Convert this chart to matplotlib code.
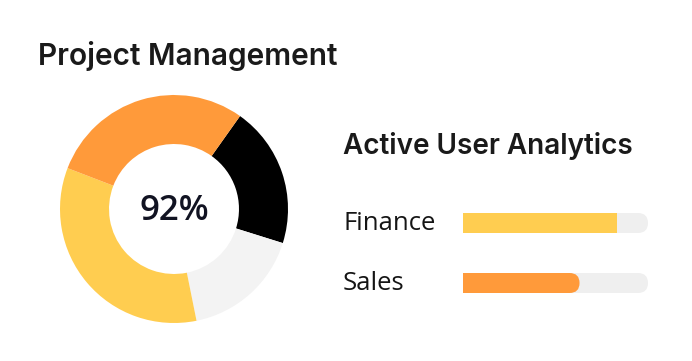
import matplotlib
matplotlib.use('Agg')
import matplotlib.pyplot as plt
from matplotlib.patches import FancyBboxPatch, Rectangle

# ============================================================
# Data
# ============================================================
segment_names  = ['Team A', 'Team B', 'Team C', 'Team D']
segment_values = [20, 17, 34, 29]          # clockwise from top-right
segment_colors = ['#000000', '#F3F3F3', '#FFCD50', '#FF9A3A']
center_label   = '92%'

bar_labels = ['Finance', 'Sales']
bar_values = [83, 63]                       # percent filled
bar_colors = ['#FFCD50', '#FF9A3A']
bar_rounded = [False, True]
TRACK_COLOR = '#EFEFEF'

W, H = 692, 361
fig = plt.figure(figsize=(W / 100, H / 100), dpi=100)
fig.patch.set_facecolor('white')

def px_axes(x0, y0, w, h):
    # axes placed by pixel box (top-left origin)
    return fig.add_axes([x0 / W, 1 - (y0 + h) / H, w / W, h / H])

# ============================================================
# Donut
# ============================================================
cx, cy, r = 174, 209, 114
ax = px_axes(cx - r, cy - r, 2 * r, 2 * r)
ax.pie(segment_values, colors=segment_colors, startangle=54.6, counterclock=False,
       radius=1.0, wedgeprops=dict(width=0.43, edgecolor='none'))
ax.set_xlim(-1, 1)
ax.set_ylim(-1, 1)
ax.set_aspect('equal')
ax.axis('off')
ax.text(0, -0.02, center_label, ha='center', va='center', fontsize=25,
        family='Open Sans', fontweight='semibold', color='#111322')

# ============================================================
# Titles
# ============================================================
fig.text(38 / W, 1 - 65 / H, 'Project Management', fontsize=21.5,
         family='Inter', fontweight='semibold', color='#1A1A1A')
fig.text(343 / W, 1 - 154 / H, 'Active User Analytics', fontsize=20.1,
         family='Inter', fontweight='semibold', color='#1A1A1A')

# ============================================================
# Progress bars
# ============================================================
bx0, bw = 463, 185
by0, bh = 203, 100
bax = px_axes(bx0, by0, bw, bh)
unit = 100 / bw                      # data units per pixel
bax.set_xlim(0, 100)
bax.set_ylim(0, bh * unit)
bax.axis('off')

bar_h = 20 * unit
rs = bar_h / 2
for i, (lab, val, col, rnd) in enumerate(zip(bar_labels, bar_values, bar_colors, bar_rounded)):
    yc = (bh - (20 + 60 * i)) * unit
    y0 = yc - bar_h / 2
    bax.add_patch(FancyBboxPatch((0, y0), 100, bar_h,
                                 boxstyle=f'round,pad=0,rounding_size={rs}',
                                 fc=TRACK_COLOR, ec='none'))
    if rnd:
        bax.add_patch(FancyBboxPatch((0, y0), val, bar_h,
                                     boxstyle=f'round,pad=0,rounding_size={rs}',
                                     fc=col, ec='none'))
        bax.add_patch(Rectangle((0, y0), rs * 1.2, bar_h, fc=col, ec='none'))
    else:
        bax.add_patch(Rectangle((0, y0), val, bar_h, fc=col, ec='none'))
    fig.text(343 / W, 1 - (223 + 60 * i) / H, lab, fontsize=18.5, va='center',
             family='Open Sans', fontweight='medium', color='#151515')

plt.savefig('out.png', dpi=100)
plt.close()
